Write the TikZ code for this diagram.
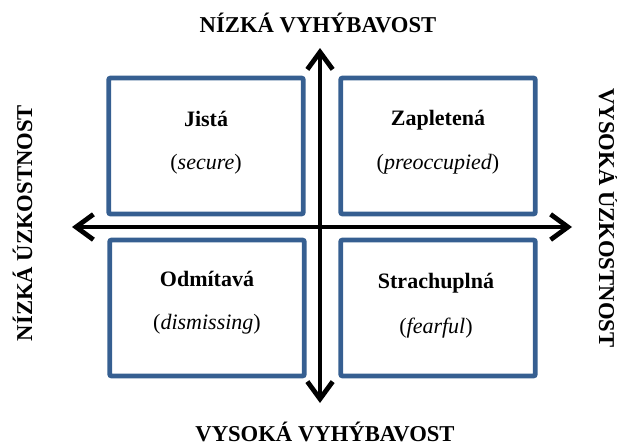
\documentclass[tikz,border=0pt]{standalone}
\usepackage{fontspec}
\setmainfont{Liberation Serif}
\usetikzlibrary{arrows.meta,positioning}

\definecolor{boxblue}{RGB}{54,95,145}

\tikzset{
	quadrant/.style={draw=boxblue,line width=3.6pt,rounded corners=1.5pt,
		minimum width=146pt,minimum height=102pt,inner sep=0pt},
	qname/.style={font=\fontsize{16.5}{20}\selectfont\bfseries},
	qsub/.style={font=\fontsize{16.5}{20}\selectfont},
	axislabel/.style={font=\fontsize{17}{20}\selectfont\bfseries,anchor=base,inner sep=0pt},
	axis/.style={line width=3.6pt,{Straight Barb[length=13pt,width=19pt]}-{Straight Barb[length=13pt,width=19pt]}}
}

\begin{document}
\begin{tikzpicture}[x=0.75pt,y=-0.75pt]

	\useasboundingbox (0,0) rectangle (617,446);

	% quadrants
	\node[quadrant] (jista) at (206,146) {};
	\node[quadrant] (zapletena) at (438,146) {};
	\node[quadrant] (odmitava) at (207,308) {};
	\node[quadrant] (strachuplna) at (438,308) {};

	\node[qname] (jista-t) at (206,119) {Jistá};
	\node[qsub] (jista-s) at (206,164) {(\textit{secure})};
	\node[qname] (zapletena-t) at (438,120) {Zapletená};
	\node[qsub] (zapletena-s) at (438,164) {(\textit{preoccupied})};
	\node[qname] (odmitava-t) at (207,279) {Odmítavá};
	\node[qsub] (odmitava-s) at (207,324) {(\textit{dismissing})};
	\node[qname] (strachuplna-t) at (436,283) {Strachuplná};
	\node[qsub] (strachuplna-s) at (436,328) {(\textit{fearful})};

	% axes
	\coordinate (lowanx) at (72,227);
	\coordinate (highanx) at (572,227);
	\coordinate (lowav) at (320,48);
	\coordinate (highav) at (320,403);
	\draw[axis] (lowanx) -- (highanx);
	\draw[axis] (lowav) -- (highav);

	\node[axislabel] (lowav-l) at (318,32) {NÍZKÁ VYHÝBAVOST};
	\node[axislabel] (highav-l) at (325,441) {VYSOKÁ VYHÝBAVOST};
	\node[axislabel,rotate=90] (lowanx-l) at (32,223) {NÍZKÁ ÚZKOSTNOST};
	\node[axislabel,rotate=-90] (highanx-l) at (599,218) {VYSOKÁ ÚZKOSTNOST};

\end{tikzpicture}
\end{document}
